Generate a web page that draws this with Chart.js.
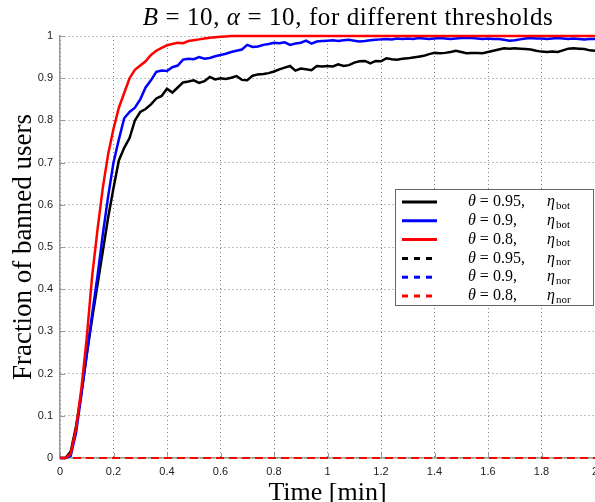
<!DOCTYPE html>
<html>
<head>
<meta charset="utf-8">
<script src="https://cdn.jsdelivr.net/npm/chart.js@4"></script>
<style>
  html, body { margin: 0; padding: 0; background: #fff; overflow: hidden; }
  #wrap { width: 595px; height: 502px; overflow: hidden; position: relative; }
  #chart { position: absolute; left: 0; top: 0; }
</style>
</head>
<body>
<div id="wrap"><canvas id="chart" width="610" height="512"></canvas></div>
<script>
// time axis, minutes
const times = [
  0, 0.02, 0.04, 0.06, 0.08, 0.1, 0.12, 0.14, 0.16, 0.18,
  0.2, 0.22, 0.24, 0.26, 0.28, 0.3, 0.32, 0.34, 0.36, 0.38,
  0.4, 0.42, 0.44, 0.46, 0.48, 0.5, 0.52, 0.54, 0.56, 0.58,
  0.6, 0.62, 0.64, 0.66, 0.68, 0.7, 0.72, 0.74, 0.76, 0.78,
  0.8, 0.82, 0.84, 0.86, 0.88, 0.9, 0.92, 0.94, 0.96, 0.98,
  1, 1.02, 1.04, 1.06, 1.08, 1.1, 1.12, 1.14, 1.16, 1.18,
  1.2, 1.22, 1.24, 1.26, 1.28, 1.3, 1.32, 1.34, 1.36, 1.38,
  1.4, 1.42, 1.44, 1.46, 1.48, 1.5, 1.52, 1.54, 1.56, 1.58,
  1.6, 1.62, 1.64, 1.66, 1.68, 1.7, 1.72, 1.74, 1.76, 1.78,
  1.8, 1.82, 1.84, 1.86, 1.88, 1.9, 1.92, 1.94, 1.96, 1.98,
  2
];

// eta_bot for theta = 0.95
const botTheta095 = [
  0, 0, 0.015, 0.075, 0.155, 0.245, 0.33, 0.41, 0.49, 0.57,
  0.64, 0.705, 0.735, 0.758, 0.8, 0.82, 0.827, 0.838, 0.852, 0.858,
  0.875, 0.866, 0.878, 0.89, 0.892, 0.895, 0.889, 0.893, 0.903, 0.897,
  0.9, 0.898, 0.901, 0.905, 0.896, 0.895, 0.906, 0.909, 0.91, 0.912,
  0.916, 0.921, 0.925, 0.929, 0.918, 0.923, 0.921, 0.919, 0.929, 0.928,
  0.929, 0.928, 0.933, 0.929, 0.931, 0.937, 0.94, 0.941, 0.935, 0.941,
  0.94, 0.947, 0.945, 0.944, 0.946, 0.947, 0.949, 0.951, 0.953, 0.957,
  0.96, 0.959, 0.96, 0.962, 0.965, 0.962, 0.959, 0.96, 0.96, 0.959,
  0.962, 0.965, 0.968, 0.971, 0.97, 0.971, 0.97, 0.969, 0.968, 0.965,
  0.963, 0.962, 0.963, 0.962, 0.966, 0.97, 0.971, 0.97, 0.969, 0.966,
  0.965
];

// eta_bot for theta = 0.9
const botTheta09 = [
  0, 0, 0.005, 0.06, 0.15, 0.245, 0.34, 0.43, 0.53, 0.62,
  0.7, 0.755, 0.805, 0.82, 0.83, 0.85, 0.878, 0.895, 0.915, 0.918,
  0.917, 0.926, 0.93, 0.944, 0.946, 0.945, 0.95, 0.946, 0.948, 0.952,
  0.955, 0.958, 0.962, 0.965, 0.968, 0.979, 0.974, 0.975, 0.979, 0.981,
  0.984, 0.983, 0.985, 0.979, 0.982, 0.984, 0.989, 0.982, 0.987, 0.988,
  0.989, 0.99, 0.988, 0.99, 0.991, 0.989, 0.987, 0.988, 0.99, 0.991,
  0.992, 0.993, 0.992, 0.994, 0.993, 0.994, 0.993, 0.995, 0.994, 0.993,
  0.994, 0.995, 0.994, 0.993, 0.994, 0.995, 0.996, 0.995, 0.994, 0.993,
  0.994, 0.993, 0.993, 0.991, 0.989, 0.99, 0.992, 0.994, 0.995, 0.994,
  0.994, 0.993, 0.994, 0.995, 0.994, 0.993, 0.994, 0.993, 0.992, 0.993,
  0.993
];

// eta_bot for theta = 0.8
const botTheta08 = [
  0, 0, 0.01, 0.07, 0.165, 0.285, 0.43, 0.54, 0.64, 0.72,
  0.78, 0.83, 0.865, 0.9, 0.92, 0.93, 0.94, 0.955, 0.965, 0.972,
  0.978, 0.981, 0.984, 0.983, 0.988, 0.99, 0.992, 0.994, 0.996, 0.997,
  0.998, 0.999, 1, 1, 1, 1, 1, 1, 1, 1,
  1, 1, 1, 1, 1, 1, 1, 1, 1, 1,
  1, 1, 1, 1, 1, 1, 1, 1, 1, 1,
  1, 1, 1, 1, 1, 1, 1, 1, 1, 1,
  1, 1, 1, 1, 1, 1, 1, 1, 1, 1,
  1, 1, 1, 1, 1, 1, 1, 1, 1, 1,
  1, 1, 1, 1, 1, 1, 1, 1, 1, 1,
  1
];

// eta_nor stays at zero for every threshold
const norTimes = [0, 0.5, 1, 1.5, 2];
const norTheta095 = [0, 0, 0, 0, 0];
const norTheta09 = [0, 0, 0, 0, 0];
const norTheta08 = [0, 0, 0, 0, 0];

const thetaLabels = ['0.95', '0.9', '0.8', '0.95', '0.9', '0.8'];
const etaLabels = ['bot', 'bot', 'bot', 'nor', 'nor', 'nor'];
const xTicks = [0, 0.2, 0.4, 0.6, 0.8, 1, 1.2, 1.4, 1.6, 1.8, 2];

const SERIF = "'Liberation Serif', 'DejaVu Serif', serif";
const SANS = "'Liberation Sans', Arial, sans-serif";

const pairs = (xs, ys) => xs.map((x, i) => ({ x, y: ys[i] }));

const line = (data, color, dashed, order) => ({
  data,
  borderColor: color,
  borderWidth: dashed ? 2 : 2.5,
  borderDash: dashed ? [8, 5] : [],
  pointRadius: 0,
  tension: 0,
  fill: false,
  clip: false,
  order
});

// title with italic math symbols
const titlePlugin = {
  id: 'mathTitle',
  afterDraw(chart) {
    const ctx = chart.ctx;
    const size = 25;
    const parts = [
      ['B', true], [' = 10, ', false], ['α', true], [' = 10, for different thresholds', false]
    ];
    ctx.save();
    ctx.fillStyle = '#000';
    ctx.textBaseline = 'alphabetic';
    ctx.letterSpacing = '0.6px';
    let total = 0;
    parts.forEach(([t, it]) => {
      ctx.font = (it ? 'italic ' : '') + size + 'px ' + SERIF;
      total += ctx.measureText(t).width;
    });
    let x = 348 - total / 2;
    parts.forEach(([t, it]) => {
      ctx.font = (it ? 'italic ' : '') + size + 'px ' + SERIF;
      ctx.fillText(t, x, 25);
      x += ctx.measureText(t).width;
    });
    ctx.restore();
  }
};

// short inward tick marks on the left and bottom axes
const tickPlugin = {
  id: 'innerTicks',
  beforeDatasetsDraw(chart) {
    const { ctx, chartArea, scales } = chart;
    ctx.save();
    ctx.strokeStyle = '#999';
    ctx.lineWidth = 1;
    ctx.beginPath();
    scales.y.ticks.forEach(t => {
      const py = Math.round(scales.y.getPixelForValue(t.value)) + 0.5;
      ctx.moveTo(chartArea.left, py);
      ctx.lineTo(chartArea.left + 5, py);
    });
    scales.x.ticks.forEach(t => {
      const px = Math.round(scales.x.getPixelForValue(t.value)) + 0.5;
      ctx.moveTo(px, chartArea.bottom);
      ctx.lineTo(px, chartArea.bottom - 5);
    });
    ctx.stroke();
    ctx.restore();
  }
};

// boxed legend like matlab, with theta / eta subscripts
const legendPlugin = {
  id: 'mathLegend',
  afterDraw(chart) {
    const ctx = chart.ctx;
    const box = { left: 395, top: 189, width: 198, height: 116 };
    ctx.save();
    ctx.fillStyle = '#fff';
    ctx.fillRect(box.left, box.top, box.width, box.height);
    ctx.strokeStyle = '#666';
    ctx.lineWidth = 1;
    ctx.strokeRect(box.left + 0.5, box.top + 0.5, box.width, box.height);

    chart.data.datasets.forEach((ds, i) => {
      const y = box.top + 13 + i * 18.8;
      ctx.beginPath();
      ctx.strokeStyle = ds.borderColor;
      ctx.lineWidth = 3;
      ctx.setLineDash(ds.borderDash.length ? [6, 6] : []);
      ctx.moveTo(402, y);
      ctx.lineTo(437, y);
      ctx.stroke();
      ctx.setLineDash([]);

      ctx.fillStyle = '#000';
      ctx.textBaseline = 'middle';
      ctx.font = 'italic 16px ' + SERIF;
      ctx.fillText('θ', 468, y);
      let x = 468 + ctx.measureText('θ').width;
      ctx.font = '16px ' + SERIF;
      ctx.fillText(' = ' + thetaLabels[i] + ',', x, y);
      ctx.font = 'italic 16px ' + SERIF;
      ctx.fillText('η', 547, y);
      x = 547 + ctx.measureText('η').width + 1;
      ctx.font = '11px ' + SERIF;
      ctx.fillText(etaLabels[i], x, y + 4);
    });
    ctx.restore();
  }
};

const chart = new Chart(document.getElementById('chart'), {
  type: 'line',
  data: {
    datasets: [
      line(pairs(times, botTheta095), '#000000', false, 5),
      line(pairs(times, botTheta09), '#0000ff', false, 4),
      line(pairs(times, botTheta08), '#ff0000', false, 3),
      line(pairs(norTimes, norTheta095), '#000000', true, 2),
      line(pairs(norTimes, norTheta09), '#0000ff', true, 1),
      line(pairs(norTimes, norTheta08), '#ff0000', true, 0)
    ]
  },
  options: {
    responsive: false,
    animation: false,
    layout: { padding: { top: 36, right: 15, left: 0, bottom: 0 } },
    plugins: { legend: { display: false }, title: { display: false }, tooltip: { enabled: false } },
    scales: {
      x: {
        type: 'linear',
        min: 0,
        max: 2,
        afterBuildTicks: s => { s.ticks = xTicks.map(v => ({ value: v })); },
        afterFit: s => { s.height = 512 - 458; },
        ticks: {
          font: { family: SANS, size: 11 },
          color: '#222',
          padding: 7,
          maxRotation: 0,
          callback: v => String(Math.round(v * 10) / 10)
        },
        grid: { color: 'rgba(0,0,0,0.5)', lineWidth: 1, drawTicks: false },
        border: { display: true, color: '#999', width: 1.5, dash: [1, 3] },
        title: {
          display: true,
          text: 'Time [min]',
          font: { family: SERIF, size: 26 },
          color: '#000',
          padding: { top: 0, bottom: 3 }
        }
      },
      y: {
        min: 0,
        max: 1,
        afterFit: s => { s.width = 60; },
        ticks: {
          stepSize: 0.1,
          font: { family: SANS, size: 11 },
          color: '#222',
          padding: 7,
          callback: v => String(Math.round(v * 10) / 10)
        },
        grid: { color: 'rgba(0,0,0,0.5)', lineWidth: 1, drawTicks: false },
        border: { display: true, color: '#999', width: 1.5, dash: [1, 3] },
        title: {
          display: true,
          text: 'Fraction of banned users',
          font: { family: SERIF, size: 27 },
          color: '#000',
          padding: { top: 8, bottom: 0 }
        }
      }
    }
  },
  plugins: [tickPlugin, titlePlugin, legendPlugin]
});
</script>
</body>
</html>
